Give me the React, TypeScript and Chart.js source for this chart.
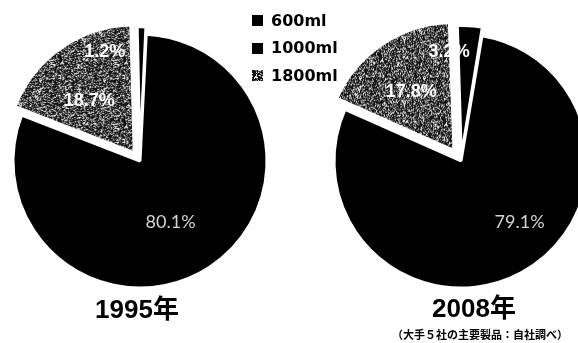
import React, { useEffect, useRef, useState } from 'react';
import { Chart, registerables } from 'chart.js';

Chart.register(...registerables);

// ---------------- data ----------------
const categories = ['600ml', '1000ml', '1800ml'];
const years = ['1995年', '2008年'];
const values1995 = [80.1, 1.2, 18.7];
const values2008 = [79.1, 3.2, 17.8];
const sourceNote = '（大手５社の主要製品：自社調べ）';
// clockwise drawing order starting at 12 o'clock: 1000ml, 600ml, 1800ml
const drawOrder = [1, 0, 2];

// ---------------- styles ----------------
const pieRadius = 127;
const canvasW = 280;
const canvasH = 322;

type Place = { dA: number; r: number; font: string; color: string };

const mainFont = '18px Lato, "Liberation Sans", sans-serif';
const smallFont = 'bold 18px "Liberation Sans", Arial, sans-serif';

const pieConfigs = [
  {
    left: 0,
    rotation: -1.5,
    offsets: [0, 15, 40],
    places: [
      { dA: 6.5, r: 0.54, font: mainFont, color: '#d4d4d4' },
      { dA: -18.6, r: 0.9, font: smallFont, color: '#ffffff' },
      { dA: -5, r: 0.62, font: smallFont, color: '#ffffff' },
    ] as Place[],
  },
  {
    left: 321,
    rotation: -2,
    offsets: [0, 19, 50],
    places: [
      { dA: -15.7, r: 0.665, font: mainFont, color: '#d4d4d4' },
      { dA: -10, r: 0.86, font: smallFont, color: '#ffffff' },
      { dA: -1.85, r: 0.67, font: smallFont, color: '#ffffff' },
    ] as Place[],
  },
];

// speckled grey texture (like a halftone scan), deterministic hash
function makeNoise(): HTMLCanvasElement {
  const n = 64;
  const c = document.createElement('canvas');
  c.width = n;
  c.height = n;
  const ctx = c.getContext('2d')!;
  const img = ctx.createImageData(n, n);
  for (let y = 0; y < n; y++) {
    for (let x = 0; x < n; x++) {
      let h = Math.imul(x + y * n + 7919, 0x9e3779b1);
      h ^= h >>> 16;
      h = Math.imul(h, 0x85ebca6b);
      h ^= h >>> 13;
      h = Math.imul(h, 0xc2b2ae35);
      h ^= h >>> 16;
      const v = (h >>> 0) % 256;
      const g = v < 140 ? 20 : v < 205 ? 115 : 225;
      const k = (y * n + x) * 4;
      img.data[k] = g;
      img.data[k + 1] = g;
      img.data[k + 2] = g;
      img.data[k + 3] = 255;
    }
  }
  ctx.putImageData(img, 0, 0);
  return c;
}

function makeLabelPlugin(places: Place[]) {
  return {
    id: 'sliceLabels',
    afterDatasetsDraw(chart: any) {
      const meta = chart.getDatasetMeta(0);
      const data = chart.data.datasets[0].data as number[];
      const ctx = chart.ctx as CanvasRenderingContext2D;
      ctx.save();
      ctx.textAlign = 'center';
      ctx.textBaseline = 'middle';
      meta.data.forEach((arc: any, i: number) => {
        const p = arc.getProps(['x', 'y', 'startAngle', 'endAngle', 'outerRadius'], true);
        const pl = places[i];
        const mid = (p.startAngle + p.endAngle) / 2 + (pl.dA * Math.PI) / 180;
        const rr = pl.r * p.outerRadius;
        ctx.font = pl.font;
        ctx.fillStyle = pl.color;
        ctx.fillText(data[i].toFixed(1) + '%', p.x + Math.cos(mid) * rr, p.y + Math.sin(mid) * rr);
      });
      ctx.restore();
    },
  };
}

function PieChart({ values, cfg }: { values: number[]; cfg: (typeof pieConfigs)[number] }) {
  const ref = useRef<HTMLCanvasElement>(null);
  useEffect(() => {
    const canvas = ref.current!;
    const pattern = canvas.getContext('2d')!.createPattern(makeNoise(), 'repeat');
    const fills: any[] = ['#000000', '#000000', pattern];
    const chart = new Chart(canvas, {
      type: 'pie',
      data: {
        labels: drawOrder.map((i) => categories[i]),
        datasets: [
          {
            data: drawOrder.map((i) => values[i]),
            backgroundColor: drawOrder.map((i) => fills[i]),
            borderColor: '#ffffff',
            borderWidth: 3,
            offset: drawOrder.map((i) => cfg.offsets[i]),
          },
        ],
      },
      options: {
        responsive: false,
        animation: false,
        rotation: cfg.rotation,
        radius: pieRadius,
        layout: { padding: 0 },
        plugins: {
          legend: { display: false },
          tooltip: { enabled: false },
          title: { display: false },
        },
      },
      plugins: [makeLabelPlugin(drawOrder.map((i) => cfg.places[i]))],
    } as any);
    return () => chart.destroy();
  }, []);
  return (
    <canvas
      ref={ref}
      width={canvasW}
      height={canvasH}
      style={{ position: 'absolute', left: cfg.left, top: 0, width: canvasW, height: canvasH }}
    />
  );
}

export default function App() {
  const [noiseUrl] = useState(() => makeNoise().toDataURL());
  const swatchBg = ['#000000', '#000000', `url(${noiseUrl})`];
  const titleStyle: React.CSSProperties = {
    position: 'absolute',
    top: 294,
    width: 200,
    textAlign: 'center',
    fontFamily: '"Liberation Sans", Arial, "Noto Sans CJK JP", sans-serif',
    fontWeight: 'bold',
    fontSize: 26,
    lineHeight: '30px',
    color: '#000',
    whiteSpace: 'nowrap',
  };
  return (
    <div
      style={{
        position: 'absolute',
        left: 0,
        top: 0,
        width: 578,
        height: 343,
        overflow: 'hidden',
        background: '#ffffff',
      }}
    >
      <PieChart values={values1995} cfg={pieConfigs[0]} />
      <PieChart values={values2008} cfg={pieConfigs[1]} />

      <div style={{ position: 'absolute', left: 252, top: 7, zIndex: 2 }}>
        {categories.map((c, i) => (
          <div key={c} style={{ display: 'flex', alignItems: 'center', height: 27.5 }}>
            <span
              style={{
                display: 'inline-block',
                width: 11,
                height: 11,
                background: swatchBg[i],
                marginRight: 8,
              }}
            />
            <span
              style={{
                fontFamily: '"DejaVu Sans", sans-serif',
                fontWeight: 'bold',
                fontSize: 16,
                lineHeight: '18px',
                color: '#000',
              }}
            >
              {c}
            </span>
          </div>
        ))}
      </div>

      <div style={{ ...titleStyle, left: 37 }}>{years[0]}</div>
      <div style={{ ...titleStyle, left: 374, top: 293 }}>{years[1]}</div>
      <div
        style={{
          position: 'absolute',
          left: 380,
          top: 327,
          width: 200,
          textAlign: 'center',
          fontFamily: '"Noto Sans CJK JP", sans-serif',
          fontWeight: 'bold',
          fontSize: 11,
          lineHeight: '14px',
          color: '#000',
          whiteSpace: 'nowrap',
        }}
      >
        {sourceNote}
      </div>
    </div>
  );
}
